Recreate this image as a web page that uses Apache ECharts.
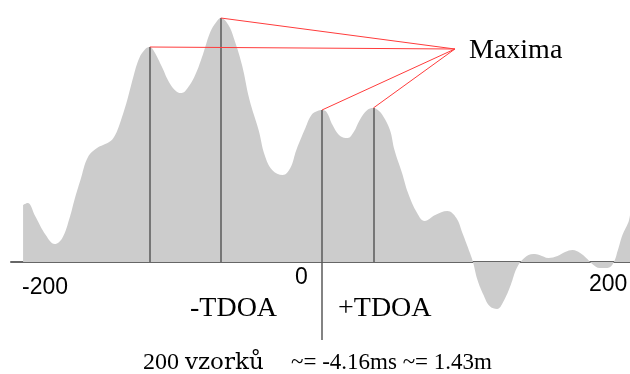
<!DOCTYPE html>
<html>
<head>
<meta charset="utf-8">
<script src="https://cdn.jsdelivr.net/npm/echarts@6/dist/echarts.min.js"></script>
<style>
  html, body { margin: 0; padding: 0; background: #fff; }
  #main { width: 630px; height: 374px; }
</style>
</head>
<body>
<div id="main"></div>
<script>
// korelace: posun (vzorky) a hodnota
const lags = [
  -198, -195, -190, -183, -177, -172, -167, -164, -160, -155,
  -149, -145, -140, -137, -134, -129, -125, -121, -117, -114,
  -111, -106, -101, -96, -93, -89, -84, -79, -74, -70,
  -67, -62, -58, -53, -48, -42, -38, -33, -26, -21,
  -17, -11, -7, -3, 0, 3, 7, 12, 17, 21,
  25, 30, 34, 37, 40, 45, 48, 53, 57, 63,
  68, 75, 83, 89, 93, 98, 100, 103, 107, 111,
  116, 120, 125, 129, 134, 140, 144, 150, 156, 161,
  166, 171, 175, 179, 184, 189, 193, 196, 199, 203, 204
]
const values = [
  57, 59, 46, 27, 18, 24, 45, 62, 82, 105,
  114, 117, 121, 127, 138, 162, 185, 204, 213, 215,
  210, 195, 179, 170, 169, 174, 187, 207, 230, 240,
  244, 237, 222, 197, 162, 132, 107, 92, 87, 94,
  112, 134, 147, 151, 152, 150, 137, 126, 124, 130,
  142, 152, 154, 152, 147, 132, 112, 89, 69, 49,
  41, 47, 51, 44, 29, 9, 0, -18, -33, -44,
  -47, -40, -23, -6, 4, 8, 7, 4, 6, 10,
  12, 9, 4, -2, -6, -6, -1, 12, 27, 40, 47
]

// maxima
const peakLags = [-114, -67, 0, 34]
const peakValues = [215, 244, 152, 154]
const labelPoint = [88, 213]   // kam vedou cervene cary
const zeroLineBottom = -78     // svisla cara u nuly jde pod osu

const serif = '"Liberation Serif", "Times New Roman", serif'
const sans = '"Liberation Sans", Arial, sans-serif'

const chart = echarts.init(document.getElementById('main'))

const points = lags.map((l, i) => [l, values[i]])

const vLines = peakLags.map((l, i) => [
  { coord: [l, l === 0 ? zeroLineBottom : 0] },
  { coord: [l, peakValues[i]] }
])
const redLines = peakLags.map((l, i) => [
  { coord: [l, peakValues[i]], lineStyle: { color: '#ff3b3b', width: 1, type: 'solid' } },
  { coord: labelPoint }
])

const txt = (text, x, y, font) => ({
  type: 'text',
  silent: true,
  style: { text, x, y, font, fill: '#000', textAlign: 'left', textVerticalAlign: 'middle' }
})

chart.setOption({
  animation: false,
  grid: { left: 11, right: 0, top: 0, bottom: 0 },
  xAxis: {
    type: 'value',
    min: -206,
    max: 204,
    axisLine: { onZero: true, lineStyle: { color: '#666', width: 2 } },
    axisTick: { show: false },
    axisLabel: { show: false },
    splitLine: { show: false }
  },
  yAxis: {
    type: 'value',
    min: -112,
    max: 262,
    show: false,
    splitLine: { show: false }
  },
  series: [{
    type: 'line',
    data: points,
    smooth: 0.4,
    showSymbol: false,
    lineStyle: { width: 0 },
    areaStyle: { color: '#cccccc', opacity: 1 },
    markLine: {
      silent: true,
      symbol: 'none',
      label: { show: false },
      lineStyle: { color: '#5a5a5a', width: 1.5, type: 'solid' },
      data: vLines.concat(redLines)
    }
  }],
  graphic: [
    txt('Maxima', 469, 51, '28px ' + serif),
    txt('-TDOA', 190, 309, '28px ' + serif),
    txt('+TDOA', 338, 309, '28px ' + serif),
    txt('0', 295, 278, '23px ' + sans),
    txt('-200', 22, 288, '23px ' + sans),
    txt('200', 589, 285, '23px ' + sans),
    txt('200', 143, 363, '24px ' + serif),
    txt('vzorků', 185, 363, '23px "DejaVu Serif", serif'),
    txt('~= -4.16ms ~= 1.43m', 291, 363, '23px ' + serif)
  ]
})
</script>
</body>
</html>
